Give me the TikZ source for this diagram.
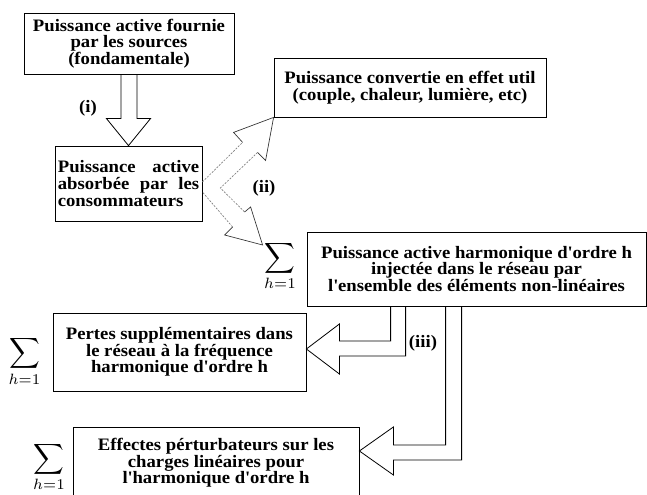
\documentclass[tikz,border=0pt]{standalone}
\usepackage{fontspec}
\setmainfont{Liberation Serif}[FakeStretch=1.07]
\usetikzlibrary{calc}
\begin{document}
\begin{tikzpicture}[x=0.75pt,y=-0.75pt,
  box/.style={draw, line width=0.6pt, inner sep=0pt, align=center, font=\bfseries\fontsize{13.1}{12.5}\selectfont},
  blk/.style={draw, line width=0.6pt, line join=miter},
  lbl/.style={font=\bfseries\fontsize{13.1}{12.5}\selectfont, inner sep=0pt},
  sig/.style={inner sep=0pt},
  faint/.style={draw=gray, line width=0.5pt, dash pattern=on 1.5pt off 1pt},
  headline/.style={draw=black!80, line width=0.5pt, line join=miter}]
\fill[white] (0,0) rectangle (647,495);
\useasboundingbox (0,0) rectangle (647,495);

% boxes
\node[box, minimum width=157.5pt, minimum height=45.75pt] (b1) at (129,43.5)
  {Puissance active fournie\\par les sources\\(fondamentale)};
\node[box, minimum width=110.25pt, minimum height=56.25pt, align=left] (b2) at (128.5,183.5)
  {\makebox[106pt][s]{Puissance active}\\\makebox[106pt][s]{absorbée par les}\\consommateurs};
\node[box, minimum width=204pt, minimum height=44.25pt] (b3) at (410,87.5)
  {Puissance convertie en effet util\\(couple, chaleur, lumière, etc)};
\node[box, minimum width=254.25pt, minimum height=55.5pt] (b4) at (476.5,269)
  {Puissance active harmonique d\textquotesingle ordre h\\injectée dans le réseau par\\l\textquotesingle ensemble des éléments non-linéaires};
\node[box, minimum width=189.75pt, minimum height=58.5pt] (b5) at (179.5,352)
  {Pertes supplémentaires dans\\le réseau à la fréquence\\harmonique d\textquotesingle ordre h};
\node[box, minimum width=214.5pt, minimum height=54pt] (b6) at (216,463)
  {Effectes pérturbateurs sur les\\charges linéaires pour\\l\textquotesingle harmonique d\textquotesingle ordre h};

% sums
\node[sig] (s4) at (280,266) {\scalebox{1.6}{$\displaystyle\sum_{h=1}$}};
\node[sig] (s5) at (24.5,361.5) {\scalebox{1.6}{$\displaystyle\sum_{h=1}$}};
\node[sig] (s6) at (49,467) {\scalebox{1.6}{$\displaystyle\sum_{h=1}$}};

% labels
\node[lbl] (li) at (88,108) {(i)};
\node[lbl] (lii) at (264,188) {(ii)};
\node[lbl] (liii) at (423,343) {(iii)};

% arrow (i)
\draw[blk] ($(b1.south)+(-8,0)$) |- ($(b2.north)+(-22,-27)$) -- (b2.north)
  -- ($(b2.north)+(22,-27)$) -| ($(b1.south)+(8,0)$);

% arrow (ii)
\coordinate (A) at ($(b2.east)+(0,-1.5)$);
\coordinate (B) at ($(b2.east)+(0,8.5)$);
\coordinate (V) at ($(b2.east)+(18,4.5)$);
\coordinate (T1) at (b3.south west);
\coordinate (T2) at ($(b4.west)+(-44,-24)$);
\draw[faint] (A) -- ($(T1)+(-31,25)$);
\draw[headline] ($(T1)+(-31,25)$) -- ($(T1)+(-40,15)$) -- (T1) -- ($(T1)+(-8,43)$) -- ($(T1)+(-16,35)$);
\draw[faint] ($(T1)+(-16,35)$) -- (V) -- ($(T2)+(-18,-33)$);
\draw[headline] ($(T2)+(-18,-33)$) -- ($(T2)+(-12,-38)$) -- (T2) -- ($(T2)+(-38,-10)$) -- ($(T2)+(-30,-18)$);
\draw[faint] ($(T2)+(-30,-18)$) -- (B);

% arrow (iii) to b5
\coordinate (t5) at ($(b5.east)+(0,-3)$);
\draw[blk] ($(b4.south west)+(84,0)$) |- ($(t5)+(33,-8)$) -- ($(t5)+(33,-25)$) -- (t5)
  -- ($(t5)+(33,25)$) -- ($(t5)+(33,7)$) -| ($(b4.south west)+(99,0)$);

% arrow (iii) to b6
\coordinate (t6) at ($(b6.east)+(0,-12)$);
\draw[blk] ($(b4.south west)+(139,0)$) |- ($(t6)+(34,-6)$) -- ($(t6)+(34,-24)$) -- (t6)
  -- ($(t6)+(34,24)$) -- ($(t6)+(34,9)$) -| ($(b4.south west)+(155,0)$);
\end{tikzpicture}
\end{document}
